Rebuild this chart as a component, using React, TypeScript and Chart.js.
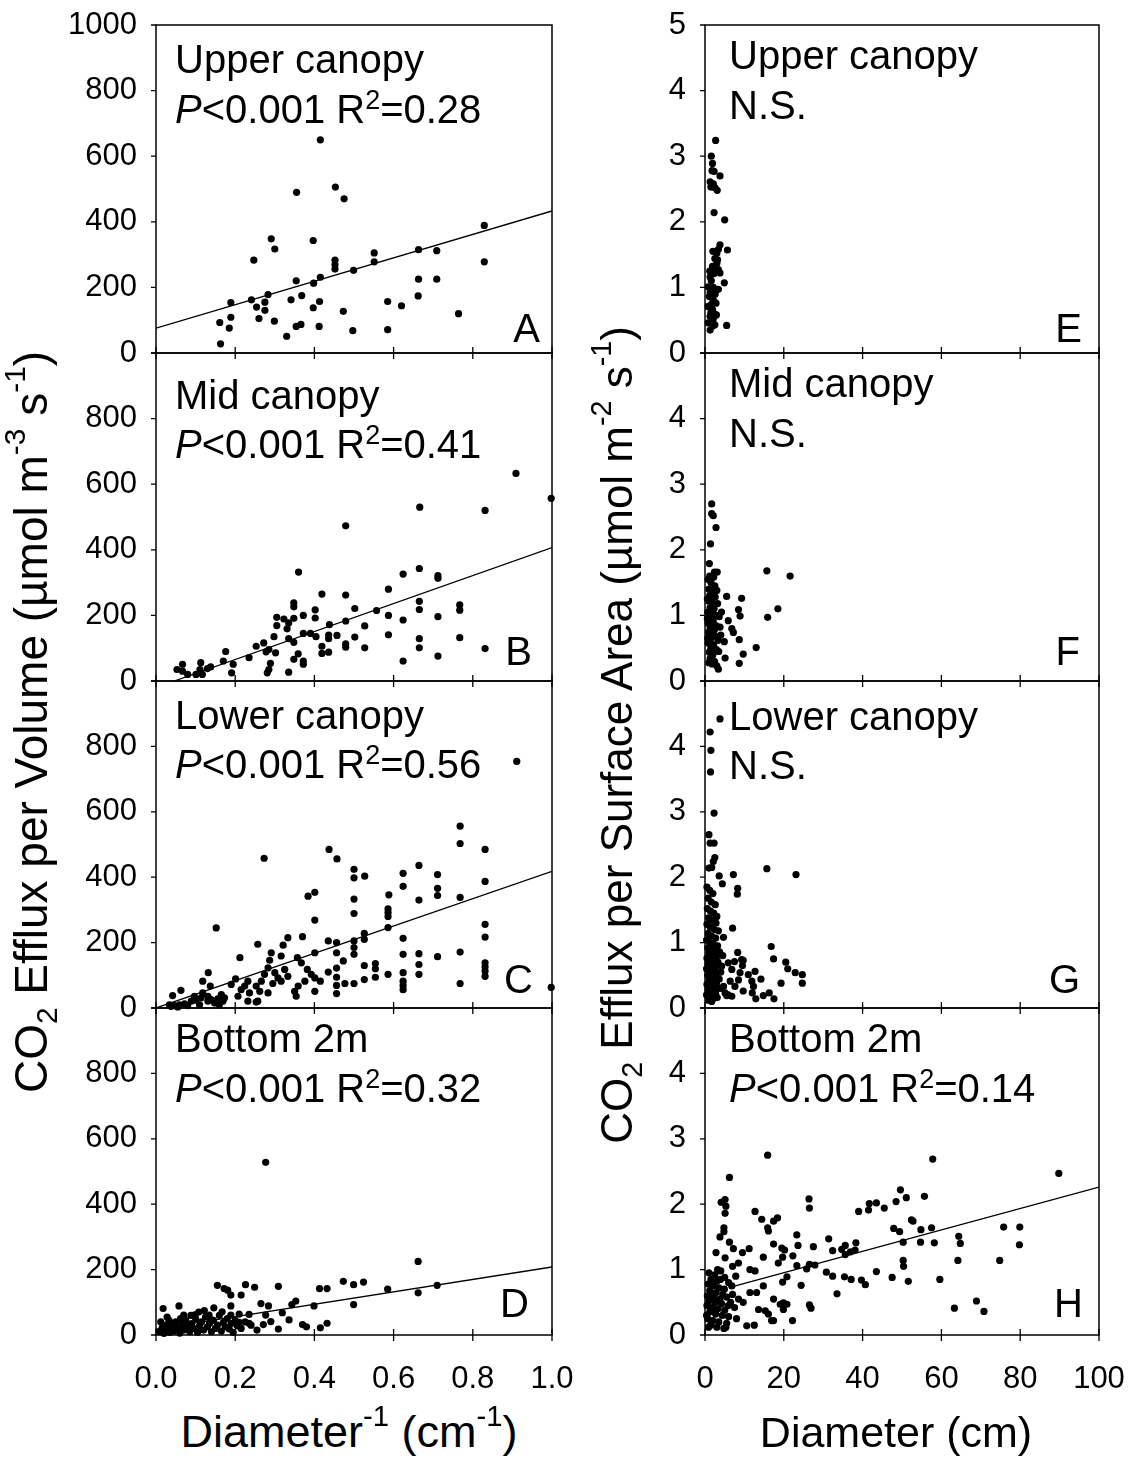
import React, { useEffect, useRef } from 'react';
import { Chart, registerables } from 'chart.js';

Chart.register(...registerables);

const FONT = "'Liberation Sans', Arial, Helvetica, sans-serif";

// ---------- DATA ----------
const volumeXTicks = [0, 0.2, 0.4, 0.6, 0.8, 1.0];
const areaXTicks = [0, 20, 40, 60, 80, 100];
const panelNames = ['Upper canopy', 'Mid canopy', 'Lower canopy', 'Bottom 2m'];
const volumeR2 = ['0.28', '0.41', '0.56', '0.32'];
const areaR2 = [null, null, null, '0.14'];
const volumeLetters = ['A', 'B', 'C', 'D'];
const areaLetters = ['E', 'F', 'G', 'H'];

// Panel A: upper canopy, efflux per volume vs diameter^-1
const upperVolume = [
  [0.415, 650], [0.355, 490], [0.453, 506], [0.475, 470], [0.291, 348], [0.300, 317], [0.397, 343], [0.247, 283],
  [0.829, 389], [0.829, 278], [0.551, 305], [0.551, 278], [0.663, 315], [0.709, 312], [0.452, 283], [0.452, 269],
  [0.452, 256], [0.499, 252], [0.415, 231], [0.398, 213], [0.354, 220], [0.663, 225], [0.709, 225], [0.283, 178],
  [0.368, 175], [0.241, 162], [0.189, 154], [0.341, 162], [0.275, 155], [0.254, 140], [0.275, 130], [0.413, 157],
  [0.397, 138], [0.585, 157], [0.620, 144], [0.662, 174], [0.473, 127], [0.764, 120], [0.189, 109], [0.260, 105],
  [0.161, 93], [0.299, 97], [0.185, 76], [0.354, 81], [0.366, 87], [0.412, 81], [0.497, 68], [0.585, 71],
  [0.330, 51], [0.163, 28],
];
const upperVolumeFit = [[0, 76], [1.0, 433]];

// Panel B: mid canopy
const midVolume = [
  [0.909, 633], [0.998, 557], [0.666, 530], [0.831, 520], [0.479, 473], [0.360, 332], [0.419, 265], [0.479, 262],
  [0.587, 280], [0.624, 326], [0.665, 343], [0.712, 321], [0.712, 313], [0.665, 243], [0.665, 218], [0.502, 221],
  [0.557, 215], [0.587, 200], [0.624, 186], [0.712, 196], [0.767, 232], [0.767, 216], [0.587, 141], [0.665, 129],
  [0.665, 101], [0.767, 132], [0.712, 76], [0.831, 99], [0.624, 61], [0.527, 168], [0.527, 101], [0.502, 134],
  [0.479, 183], [0.479, 113], [0.479, 103], [0.457, 139], [0.438, 172], [0.436, 140], [0.436, 129], [0.419, 106],
  [0.436, 88], [0.419, 84], [0.402, 217], [0.402, 192], [0.372, 200], [0.372, 145], [0.390, 145], [0.404, 135],
  [0.348, 238], [0.348, 226], [0.348, 191], [0.323, 189], [0.335, 177], [0.331, 159], [0.305, 194], [0.305, 169],
  [0.298, 135], [0.335, 129], [0.348, 118], [0.285, 96], [0.302, 86], [0.278, 89], [0.272, 116], [0.253, 106],
  [0.235, 71], [0.359, 83], [0.348, 66], [0.372, 61], [0.372, 51], [0.289, 54], [0.281, 25], [0.285, 35],
  [0.335, 27], [0.176, 90], [0.170, 61], [0.195, 51], [0.191, 25], [0.138, 43], [0.113, 56], [0.111, 35],
  [0.117, 20], [0.101, 20], [0.067, 51], [0.053, 35], [0.067, 30], [0.080, 20], [0.130, 38],
];
const midVolumeFit = [[0.046, 0], [1.0, 407]];

// Panel C: lower canopy
const lowerVolume = [
  [0.911, 754], [0.768, 556], [0.768, 503], [0.831, 485], [0.831, 387], [0.768, 338], [0.831, 256], [0.831, 217],
  [0.831, 138], [0.831, 126], [0.831, 113], [0.831, 97], [0.768, 171], [0.768, 75], [0.998, 63], [0.273, 458],
  [0.437, 485], [0.457, 456], [0.500, 424], [0.500, 398], [0.527, 403], [0.500, 333], [0.500, 289], [0.384, 342],
  [0.401, 354], [0.401, 269], [0.624, 412], [0.624, 372], [0.664, 436], [0.664, 330], [0.711, 408], [0.711, 366],
  [0.711, 344], [0.588, 346], [0.586, 303], [0.586, 292], [0.586, 280], [0.586, 246], [0.526, 228], [0.526, 210],
  [0.624, 213], [0.624, 164], [0.624, 108], [0.624, 82], [0.624, 69], [0.624, 56], [0.664, 166], [0.664, 133],
  [0.664, 103], [0.711, 157], [0.586, 103], [0.554, 136], [0.554, 120], [0.554, 94], [0.526, 130], [0.526, 87],
  [0.500, 205], [0.500, 185], [0.500, 164], [0.500, 75], [0.477, 75], [0.456, 200], [0.456, 169], [0.456, 122],
  [0.456, 94], [0.456, 69], [0.456, 44], [0.473, 144], [0.435, 205], [0.435, 110], [0.415, 82], [0.401, 169],
  [0.401, 51], [0.370, 218], [0.333, 215], [0.321, 192], [0.316, 159], [0.291, 169], [0.287, 146], [0.257, 195],
  [0.357, 154], [0.367, 138], [0.382, 118], [0.392, 103], [0.401, 92], [0.376, 82], [0.359, 67], [0.350, 51],
  [0.354, 36], [0.325, 118], [0.333, 97], [0.316, 82], [0.300, 108], [0.283, 123], [0.308, 92], [0.295, 75],
  [0.274, 103], [0.266, 82], [0.253, 67], [0.262, 51], [0.283, 46], [0.257, 21], [0.253, 18], [0.232, 82],
  [0.224, 67], [0.236, 46], [0.215, 56], [0.207, 36], [0.232, 21], [0.212, 154], [0.201, 89], [0.190, 72],
  [0.152, 245], [0.132, 108], [0.118, 82], [0.137, 67], [0.165, 41], [0.156, 28], [0.139, 26], [0.131, 36],
  [0.114, 31], [0.101, 24], [0.089, 21], [0.072, 13], [0.059, 10], [0.046, 7], [0.038, 5], [0.034, 10],
  [0.042, 38], [0.063, 54], [0.131, 21], [0.148, 15], [0.169, 21], [0.160, 10], [0.110, 10], [0.080, 7],
  [0.055, 3], [0.097, 36], [0.118, 46], [0.173, 31],
];
const lowerVolumeFit = [[0, 0], [1.0, 418]];

// Panel D: bottom 2 m
const bottomVolume = [
  [0.277, 528], [0.662, 225], [0.662, 129], [0.710, 152], [0.585, 140], [0.499, 93], [0.473, 164], [0.499, 154],
  [0.524, 162], [0.413, 142], [0.432, 142], [0.399, 89], [0.432, 36], [0.415, 22], [0.380, 25], [0.370, 32],
  [0.353, 104], [0.343, 93], [0.336, 46], [0.319, 68], [0.309, 149], [0.309, 18], [0.284, 89], [0.265, 96],
  [0.277, 61], [0.290, 41], [0.271, 32], [0.249, 146], [0.226, 154], [0.215, 122], [0.189, 122], [0.181, 137],
  [0.172, 142], [0.155, 152], [0.189, 89], [0.210, 64], [0.235, 63], [0.235, 36], [0.210, 39], [0.189, 61],
  [0.146, 83], [0.167, 71], [0.134, 61], [0.058, 89], [0.018, 81], [0.070, 61], [0.010, 10], [0.015, 20],
  [0.020, 5], [0.025, 30], [0.030, 15], [0.035, 8], [0.040, 25], [0.045, 12], [0.050, 40], [0.055, 18],
  [0.060, 6], [0.065, 30], [0.070, 15], [0.075, 45], [0.080, 22], [0.085, 10], [0.090, 35], [0.095, 20],
  [0.100, 50], [0.105, 8], [0.110, 28], [0.115, 40], [0.120, 15], [0.125, 55], [0.130, 25], [0.135, 35],
  [0.140, 10], [0.145, 45], [0.150, 20], [0.155, 30], [0.160, 60], [0.165, 12], [0.170, 38], [0.175, 25],
  [0.180, 50], [0.185, 18], [0.190, 35], [0.195, 8], [0.200, 45], [0.205, 28], [0.215, 20], [0.225, 40],
  [0.240, 30], [0.255, 15], [0.012, 40], [0.028, 55], [0.042, 35], [0.062, 50], [0.088, 60], [0.108, 70],
  [0.122, 75], [0.138, 48], [0.098, 62], [0.078, 30], [0.048, 22], [0.022, 15], [0.033, 45],
];
const bottomVolumeFit = [[0, 18], [1.0, 208]];

// Panel E: upper canopy, efflux per surface area vs diameter
const upperArea = [
  [2.7, 3.24], [1.6, 3.0], [1.9, 2.89], [1.8, 2.78], [2.3, 2.77], [3.8, 2.70], [1.3, 2.61], [2.1, 2.58],
  [3.1, 2.48], [2.5, 2.52], [1.5, 2.53], [2.3, 2.14], [5.0, 2.03], [3.8, 1.65], [3.4, 1.58], [5.7, 1.57],
  [3.0, 1.52], [2.5, 1.44], [3.0, 1.37], [1.9, 1.32], [3.4, 1.27], [2.3, 1.21], [1.3, 1.16], [3.8, 1.22],
  [4.9, 1.07], [0.8, 1.01], [2.1, 1.0], [3.4, 0.97], [1.3, 0.92], [1.1, 0.86], [2.1, 0.81], [2.8, 0.76],
  [0.8, 0.71], [1.9, 0.66], [2.3, 0.60], [1.3, 0.56], [2.1, 0.52], [0.8, 0.46], [2.5, 0.43], [1.3, 0.35],
  [5.5, 0.42], [1.9, 0.41], [2.8, 1.30], [1.6, 1.10], [2.6, 0.90], [1.7, 0.75], [3.2, 1.42], [2.0, 1.55],
  [1.5, 0.62], [2.9, 0.58], [1.2, 1.25],
];

// Panel F: mid canopy
const midArea = [
  [1.7, 2.70], [1.7, 2.55], [2.1, 2.52], [2.8, 2.34], [1.4, 2.09], [1.1, 1.79], [2.4, 1.66], [3.1, 1.66],
  [15.7, 1.68], [21.6, 1.60], [5.5, 1.29], [9.3, 1.26], [8.5, 1.09], [8.9, 0.99], [18.5, 1.10], [15.9, 0.97],
  [5.9, 0.92], [6.8, 0.80], [7.2, 0.74], [8.7, 0.63], [4.9, 0.60], [13.0, 0.51], [9.7, 0.41], [5.1, 0.35],
  [8.7, 0.27], [3.0, 0.23], [3.4, 0.18], [0.8, 1.55], [1.5, 1.50], [2.5, 1.45], [1.0, 1.40], [2.0, 1.35],
  [3.0, 1.38], [1.2, 1.30], [2.6, 1.28], [0.9, 1.22], [1.8, 1.20], [3.2, 1.18], [1.3, 1.12], [2.3, 1.10],
  [0.7, 1.05], [1.6, 1.02], [2.8, 1.00], [3.6, 0.98], [1.1, 0.95], [2.1, 0.92], [0.8, 0.88], [1.7, 0.85],
  [2.9, 0.84], [1.3, 0.80], [2.4, 0.78], [3.8, 0.82], [0.9, 0.74], [1.9, 0.70], [2.7, 0.68], [1.4, 0.64],
  [3.3, 0.62], [0.8, 0.58], [2.2, 0.55], [1.5, 0.50], [2.9, 0.48], [1.1, 0.44], [2.0, 0.40], [3.5, 0.45],
  [1.3, 0.34], [2.4, 0.30], [1.8, 0.26], [4.2, 1.05], [4.0, 0.70], [1.2, 1.60], [2.2, 1.58], [0.6, 1.25],
  [0.6, 0.95], [0.7, 0.65], [1.0, 0.28],
];

// Panel G: lower canopy
const lowerArea = [
  [3.8, 4.42], [1.3, 4.22], [1.5, 3.94], [1.4, 3.61], [2.3, 2.98], [1.0, 2.65], [1.3, 2.52], [2.3, 2.52],
  [2.5, 2.30], [2.1, 2.24], [1.0, 2.14], [1.7, 2.15], [15.7, 2.13], [23.1, 2.04], [3.6, 2.02], [7.2, 2.04],
  [4.4, 1.90], [8.3, 1.83], [8.2, 1.74], [7.0, 1.22], [4.7, 1.08], [16.8, 0.94], [17.4, 0.75], [8.3, 0.85],
  [9.3, 0.74], [9.7, 0.73], [20.5, 0.70], [21.0, 0.60], [22.9, 0.54], [24.7, 0.51], [24.7, 0.38], [19.3, 0.38],
  [14.2, 0.44], [12.7, 0.56], [11.0, 0.51], [11.9, 0.41], [12.3, 0.33], [12.0, 0.23], [9.7, 0.26], [12.9, 0.14],
  [14.8, 0.19], [16.3, 0.23], [17.5, 0.14], [5.9, 0.20], [6.8, 0.18], [5.1, 0.23], [7.6, 0.33], [6.4, 0.41],
  [8.5, 0.43], [8.9, 0.54], [6.8, 0.59], [5.9, 0.69], [9.5, 0.65], [7.5, 0.71], [4.2, 0.64], [4.7, 0.33],
  [5.5, 0.19], [0.5, 1.85], [1.2, 1.80], [2.0, 1.75], [0.8, 1.68], [1.6, 1.62], [2.6, 1.58], [0.6, 1.52],
  [1.4, 1.48], [2.2, 1.45], [3.0, 1.40], [0.9, 1.38], [1.8, 1.34], [2.8, 1.30], [0.5, 1.28], [1.3, 1.24],
  [2.4, 1.20], [3.4, 1.18], [0.8, 1.14], [1.7, 1.10], [2.7, 1.07], [0.4, 1.04], [1.2, 1.00], [2.1, 0.98],
  [3.2, 0.95], [0.7, 0.92], [1.6, 0.90], [2.5, 0.88], [3.7, 0.86], [1.0, 0.84], [1.9, 0.81], [2.9, 0.78],
  [0.5, 0.76], [1.4, 0.74], [2.3, 0.72], [3.3, 0.70], [0.8, 0.67], [1.7, 0.65], [2.6, 0.62], [0.4, 0.60],
  [1.2, 0.58], [2.1, 0.55], [3.0, 0.53], [0.7, 0.50], [1.6, 0.48], [2.5, 0.46], [3.6, 0.44], [1.0, 0.42],
  [1.9, 0.40], [2.9, 0.38], [0.5, 0.36], [1.4, 0.34], [2.3, 0.32], [3.4, 0.30], [0.8, 0.28], [1.8, 0.25],
  [2.7, 0.22], [0.4, 0.20], [1.3, 0.18], [2.2, 0.15], [3.1, 0.16], [0.9, 0.12], [1.7, 0.10], [4.0, 0.55],
  [4.5, 0.80], [4.2, 0.30],
];

// Panel H: bottom 2 m
const bottomArea = [
  [15.9, 2.75], [6.2, 2.41], [57.8, 2.69], [89.8, 2.47], [49.6, 2.22], [48.5, 2.04], [51.1, 2.10], [55.7, 2.12],
  [41.7, 2.01], [43.5, 2.02], [41.5, 1.91], [45.5, 1.94], [39.0, 1.89], [26.4, 2.08], [26.5, 1.94], [4.1, 2.03],
  [5.1, 2.07], [5.3, 1.97], [5.1, 1.86], [12.7, 1.89], [14.4, 1.77], [17.4, 1.74], [18.4, 1.79], [15.9, 1.64],
  [16.1, 1.59], [4.8, 1.64], [4.8, 1.58], [3.8, 1.50], [23.3, 1.53], [23.6, 1.37], [31.4, 1.47], [38.3, 1.41],
  [47.9, 1.63], [49.4, 1.58], [52.4, 1.76], [52.8, 1.74], [54.8, 1.61], [57.5, 1.64], [50.3, 1.42], [54.7, 1.42],
  [58.2, 1.41], [64.4, 1.51], [64.8, 1.40], [75.8, 1.65], [79.9, 1.65], [79.8, 1.38], [74.8, 1.14], [64.2, 1.14],
  [59.6, 0.85], [50.3, 1.14], [50.4, 1.05], [47.5, 0.88], [51.6, 0.82], [43.5, 0.97], [39.7, 0.84], [40.7, 0.77],
  [37.1, 0.85], [35.4, 0.89], [32.4, 0.90], [30.8, 0.96], [35.6, 1.37], [34.7, 1.31], [35.6, 1.23], [36.9, 1.27],
  [38.1, 1.30], [32.4, 1.29], [27.5, 1.35], [26.5, 1.08], [27.9, 1.07], [25.8, 1.01], [23.3, 1.06], [24.4, 0.76],
  [33.5, 0.63], [26.5, 0.46], [26.9, 0.41], [63.3, 0.41], [68.9, 0.52], [70.8, 0.36], [22.2, 0.22], [19.9, 0.49],
  [20.8, 0.47], [19.9, 0.39], [19.7, 1.19], [20.2, 1.30], [19.5, 1.33], [22.3, 1.21], [18.6, 1.10], [20.8, 0.89],
  [19.7, 0.81], [17.4, 1.39], [14.8, 1.19], [11.4, 1.00], [12.7, 0.98], [7.0, 1.05], [8.5, 1.10], [9.5, 1.26],
  [11.2, 1.32], [7.2, 1.32], [6.2, 1.42], [5.1, 1.18], [2.8, 1.26], [16.9, 0.22], [17.4, 0.22], [10.6, 0.14],
  [12.5, 0.15], [5.3, 0.12], [13.1, 0.65], [14.8, 0.75], [11.4, 0.65], [9.7, 0.50], [13.6, 0.39], [15.3, 0.37],
  [17.4, 0.55], [19.1, 0.47], [16.1, 0.32], [1.0, 0.95], [2.5, 0.92], [4.0, 0.98], [1.5, 0.85], [3.0, 0.82],
  [5.0, 0.88], [0.8, 0.78], [2.0, 0.75], [3.5, 0.72], [6.0, 0.80], [1.2, 0.68], [2.8, 0.65], [4.5, 0.62],
  [0.6, 0.60], [2.2, 0.58], [3.8, 0.55], [5.5, 0.58], [7.0, 0.62], [1.0, 0.52], [2.6, 0.50], [4.2, 0.48],
  [6.5, 0.50], [0.5, 0.45], [1.8, 0.42], [3.3, 0.40], [5.0, 0.38], [7.5, 0.42], [1.2, 0.35], [2.7, 0.32],
  [4.4, 0.30], [6.0, 0.28], [0.7, 0.25], [2.0, 0.22], [3.5, 0.20], [5.5, 0.18], [1.4, 0.15], [3.0, 0.12],
  [4.8, 0.10], [8.0, 0.25], [6.8, 0.75], [7.8, 0.90], [3.2, 1.0], [0.4, 0.30], [1.6, 0.62], [4.9, 0.70],
  [2.3, 0.38], [3.9, 0.85], [5.9, 0.45], [0.9, 0.12], [8.5, 0.55],
];
const bottomAreaFit = [[7, 0.74], [100, 2.26]];

const volumeSets = [upperVolume, midVolume, lowerVolume, bottomVolume];
const volumeFits = [upperVolumeFit, midVolumeFit, lowerVolumeFit, bottomVolumeFit];
const areaSets = [upperArea, midArea, lowerArea, bottomArea];
const areaFits = [null, null, null, bottomAreaFit];

// ---------- LAYOUT ----------
const rowTops = [25, 353, 681, 1008];
const rowHeights = [328, 328, 327, 327];
const TOP_PAD = 20;
const X_AXIS_H = 70;
// per-panel text placement (line1 baseline, line2 baseline, letter dx, letter dy)
const volTextPos = [[48, 98, -12, -11], [56, 105, -20, -16], [48, 97, -19, -15], [44, 94, -23, -18]];
const areaTextPos = [[44, 94, -17, -11], [44, 94, -19, -16], [49, 98, -19, -15], [44, 94, -16, -18]];

type Spec = {
  left: number; top: number; w: number; h: number; yw: number; padRight: number;
  xMax: number; xStep: number; xDec: boolean; showX: boolean;
  yMax: number; yStep: number; showTop: boolean;
  points: number[][]; fit: number[][] | null;
  name: string; r2: string | null; letter: string; textDx: number; textPos: number[];
};

function decoPlugin(spec: Spec) {
  return {
    id: 'deco',
    afterDraw(chart: any) {
      const { ctx, chartArea: a } = chart;
      const xs = chart.scales.x;
      const ys = chart.scales.y;
      ctx.save();
      ctx.strokeStyle = '#000';
      ctx.lineWidth = 1.5;
      ctx.strokeRect(a.left, a.top, a.right - a.left, a.bottom - a.top);
      ctx.lineWidth = 1.3;
      ctx.beginPath();
      xs.ticks.forEach((t: any) => {
        const p = xs.getPixelForValue(t.value);
        ctx.moveTo(p, a.bottom - 6);
        ctx.lineTo(p, a.bottom + 6);
      });
      ys.ticks.forEach((t: any) => {
        const p = ys.getPixelForValue(t.value);
        ctx.moveTo(a.left - 5, p);
        ctx.lineTo(a.left, p);
      });
      ctx.stroke();

      ctx.fillStyle = '#000';
      ctx.textBaseline = 'alphabetic';
      ctx.textAlign = 'left';
      const big = `40px ${FONT}`;
      ctx.font = big;
      const tx = a.left + spec.textDx;
      const [b1, b2, ldx, ldy] = spec.textPos;
      ctx.fillText(spec.name, tx, a.top + b1);
      const y2 = a.top + b2;
      if (spec.r2) {
        ctx.font = `italic 40px ${FONT}`;
        ctx.fillText('P', tx, y2);
        let x = tx + ctx.measureText('P').width;
        ctx.font = big;
        const s1 = '<0.001 R';
        ctx.fillText(s1, x, y2);
        x += ctx.measureText(s1).width;
        ctx.font = `27px ${FONT}`;
        ctx.fillText('2', x, y2 - 14);
        x += ctx.measureText('2').width;
        ctx.font = big;
        ctx.fillText('=' + spec.r2, x, y2);
      } else {
        ctx.fillText('N.S.', tx, y2);
      }
      ctx.textAlign = 'right';
      ctx.fillText(spec.letter, a.right + ldx, a.bottom + ldy);
      ctx.restore();
    },
  };
}

function makeConfig(spec: Spec): any {
  const datasets: any[] = [
    {
      data: spec.points.map(([x, y]) => ({ x, y })),
      pointRadius: 3.6,
      pointHoverRadius: 3.6,
      pointBorderWidth: 0,
      pointBackgroundColor: '#000',
      backgroundColor: '#000',
      borderColor: '#000',
      showLine: false,
      clip: false,
    },
  ];
  if (spec.fit) {
    datasets.push({
      data: spec.fit.map(([x, y]) => ({ x, y })),
      showLine: true,
      borderColor: '#000',
      borderWidth: 1.3,
      pointRadius: 0,
      pointHoverRadius: 0,
      fill: false,
      tension: 0,
    });
  }
  const tickFont = { family: FONT, size: 31 };
  return {
    type: 'scatter',
    data: { datasets },
    options: {
      responsive: false,
      animation: false,
      events: [],
      layout: { padding: { top: TOP_PAD, right: spec.padRight, left: 0, bottom: 0 } },
      plugins: { legend: { display: false }, tooltip: { enabled: false } },
      scales: {
        x: {
          type: 'linear',
          position: 'bottom',
          min: 0,
          max: spec.xMax,
          afterFit: (s: any) => {
            s.height = X_AXIS_H;
            s.paddingLeft = 0;
            s.paddingRight = 0;
            s.paddingTop = 0;
            s.paddingBottom = 0;
          },
          grid: { display: false, drawTicks: false },
          border: { display: false },
          ticks: {
            display: spec.showX,
            stepSize: spec.xStep,
            autoSkip: false,
            maxRotation: 0,
            minRotation: 0,
            padding: 26,
            color: '#000',
            font: tickFont,
            callback: (v: any) => (spec.xDec ? Number(v).toFixed(1) : String(Math.round(Number(v)))),
          },
        },
        y: {
          type: 'linear',
          position: 'left',
          min: 0,
          max: spec.yMax,
          afterFit: (s: any) => {
            s.width = spec.yw;
            s.paddingTop = 0;
            s.paddingBottom = 0;
            s.paddingLeft = 0;
            s.paddingRight = 0;
          },
          grid: { display: false, drawTicks: false },
          border: { display: false },
          ticks: {
            stepSize: spec.yStep,
            autoSkip: false,
            padding: 19,
            color: '#000',
            font: tickFont,
            callback: (v: any) => (Number(v) === spec.yMax && !spec.showTop ? '' : String(Math.round(Number(v)))),
          },
        },
      },
    },
    plugins: [decoPlugin(spec)],
  };
}

function Panel({ spec }: { spec: Spec }) {
  const ref = useRef<HTMLCanvasElement>(null);
  useEffect(() => {
    const chart = new Chart(ref.current as HTMLCanvasElement, makeConfig(spec));
    return () => chart.destroy();
  }, []);
  return (
    <canvas
      ref={ref}
      width={spec.w}
      height={spec.h}
      style={{ position: 'absolute', left: spec.left, top: spec.top, width: spec.w, height: spec.h, display: 'block' }}
    />
  );
}

const specs: Spec[] = [];
for (let i = 0; i < 4; i++) {
  specs.push({
    left: 0, top: rowTops[i] - TOP_PAD, w: 580, h: TOP_PAD + rowHeights[i] + X_AXIS_H, yw: 156, padRight: 28,
    xMax: volumeXTicks[volumeXTicks.length - 1], xStep: volumeXTicks[1] - volumeXTicks[0], xDec: true, showX: i === 3,
    yMax: 1000, yStep: 200, showTop: i === 0,
    points: volumeSets[i], fit: volumeFits[i],
    name: panelNames[i], r2: volumeR2[i], letter: volumeLetters[i], textDx: 19, textPos: volTextPos[i],
  });
}
for (let i = 0; i < 4; i++) {
  specs.push({
    left: 580, top: rowTops[i] - TOP_PAD, w: 551, h: TOP_PAD + rowHeights[i] + X_AXIS_H, yw: 125, padRight: 32,
    xMax: areaXTicks[areaXTicks.length - 1], xStep: areaXTicks[1] - areaXTicks[0], xDec: false, showX: i === 3,
    yMax: 5, yStep: 1, showTop: i === 0,
    points: areaSets[i], fit: areaFits[i],
    name: panelNames[i], r2: areaR2[i], letter: areaLetters[i], textDx: 24, textPos: areaTextPos[i],
  });
}

const titleBase: React.CSSProperties = {
  position: 'absolute',
  fontFamily: FONT,
  fontSize: 45,
  lineHeight: '45px',
  height: 45,
  color: '#000',
  whiteSpace: 'nowrap',
  textAlign: 'center',
};
const supStyle: React.CSSProperties = { fontSize: '0.65em', position: 'relative', top: '-0.72em', verticalAlign: 'baseline', lineHeight: 0 };
const subStyle: React.CSSProperties = { fontSize: '0.65em', position: 'relative', top: '0.35em', verticalAlign: 'baseline', lineHeight: 0 };

function RotatedTitle({ cx, cy, size, children }: { cx: number; cy: number; size: number; children: React.ReactNode }) {
  const W = 1000;
  return (
    <div
      style={{
        ...titleBase,
        fontSize: size,
        lineHeight: `${size}px`,
        height: size,
        width: W,
        left: cx - W / 2,
        top: cy - size / 2,
        transform: 'rotate(-90deg)',
        transformOrigin: '50% 50%',
      }}
    >
      {children}
    </div>
  );
}

export default function App() {
  return (
    <div style={{ position: 'absolute', left: 0, top: 0, width: 1131, height: 1470, background: '#fff', overflow: 'hidden' }}>
      {specs.map((s, i) => (
        <Panel key={i} spec={s} />
      ))}
      <RotatedTitle cx={31} cy={722} size={46}>
        CO<span style={subStyle}>2</span> Efflux per Volume (µmol m<span style={supStyle}>-3</span> s<span style={supStyle}>-1</span>)
      </RotatedTitle>
      <RotatedTitle cx={617} cy={735} size={44}>
        CO<span style={subStyle}>2</span> Efflux per Surface Area (µmol m<span style={supStyle}>-2</span> s<span style={supStyle}>-1</span>)
      </RotatedTitle>
      <div style={{ ...titleBase, width: 600, left: 349 - 300, top: 1409 }}>
        Diameter<span style={supStyle}>-1</span> (cm<span style={supStyle}>-1</span>)
      </div>
      <div style={{ ...titleBase, fontSize: 43, width: 600, left: 896 - 300, top: 1410 }}>Diameter (cm)</div>
    </div>
  );
}
